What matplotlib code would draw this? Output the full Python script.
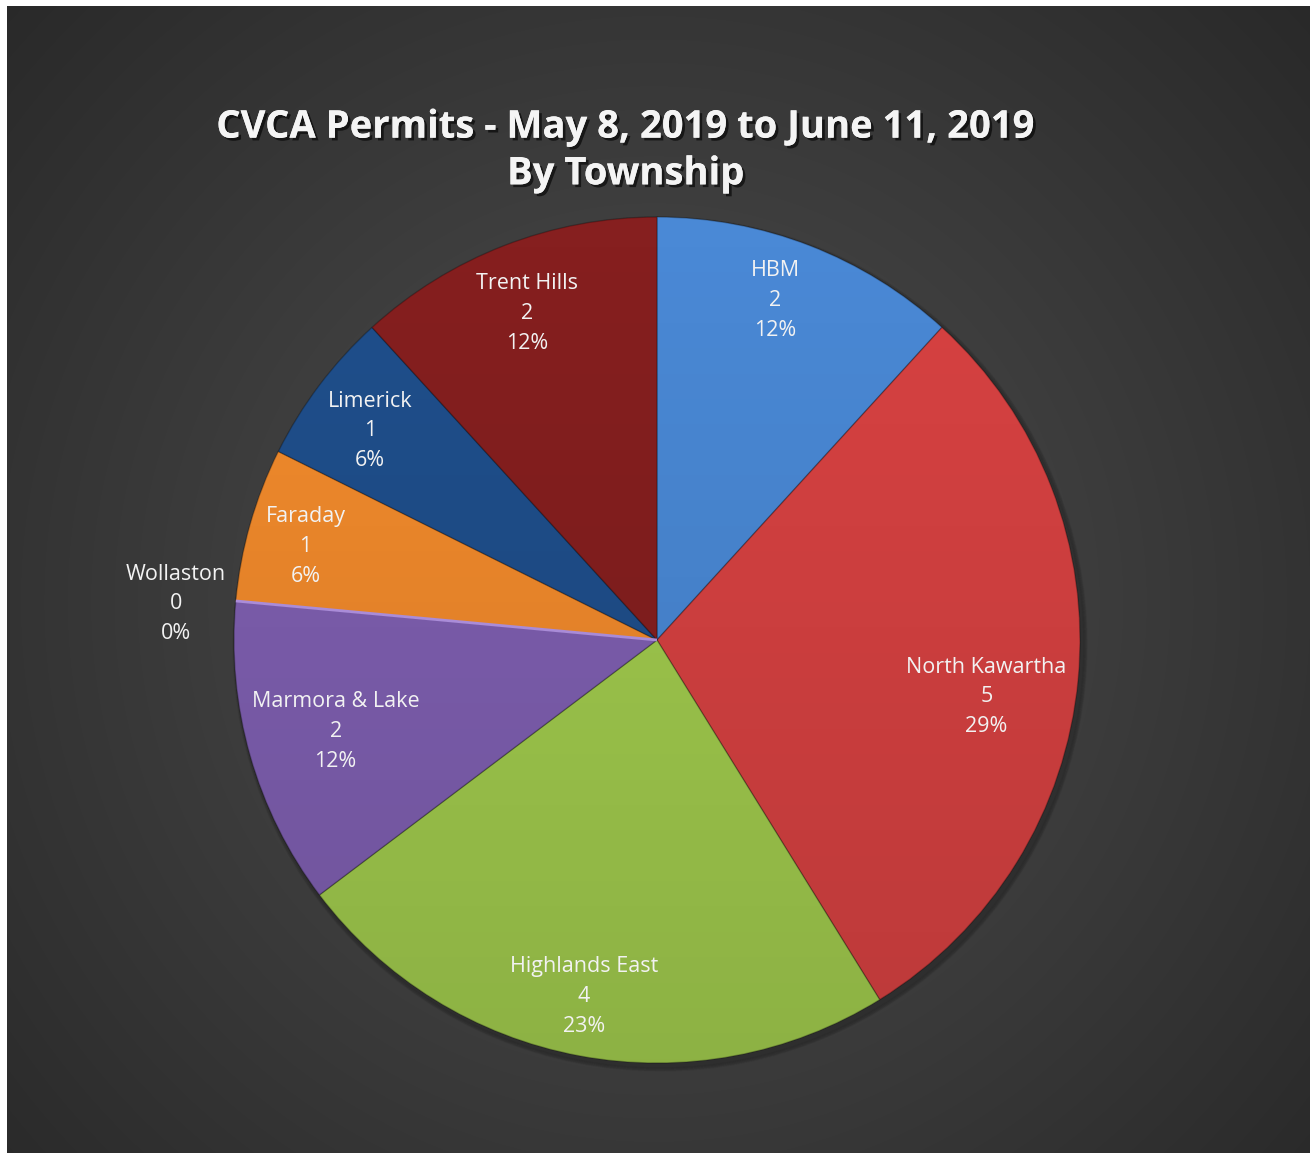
# CVCA permits pie chart, by township

import numpy as np
import matplotlib.pyplot as plt
import matplotlib.patheffects as pe

townships = ['HBM', 'North Kawartha', 'Highlands East', 'Marmora & Lake',
             'Wollaston', 'Faraday', 'Limerick', 'Trent Hills']
permits = [2, 5, 4, 2, 0, 1, 1, 2]
pct_labels = [12, 29, 23, 12, 0, 6, 6, 12]   # as printed on the chart
colors = ['#4a89d6', '#d84242', '#a2cc4e', '#8060b2',
          '#b595e6', '#f38b2c', '#1f4f8c', '#861f1f']
label_dist = [0.85, 0.79, 0.86, 0.79, 1.14, 0.86, 0.84, 0.83]  # fraction of radius
label_shift = [2, -4.5, -1, 0, 1, 1, 1, 0.5]                    # degrees
title = 'CVCA Permits - May 8, 2019 to June 11, 2019\nBy Township'

W, H = 1310, 1153
fig = plt.figure(figsize=(W/100, H/100), dpi=100, facecolor='white')
ax = fig.add_axes([0, 0, 1, 1])

# dark radial gradient background (leaves a thin white strip top/left)
yy, xx = np.mgrid[0:H, 0:W]
d = np.sqrt((xx - 650)**2 + (yy - (H - 600))**2) / 900
d = np.clip(d, 0, 1)
g = 0.31 - 0.15*d
bg = np.dstack([g, g, g])
ax.imshow(bg, extent=[7, W, 0, H - 6], origin='lower', aspect='auto', zorder=0)

cx, cy, R = 657, H - 640, 423

# soft drop shadow
for k in range(4):
    ax.add_patch(plt.Circle((cx + 3, cy - 4), R + 4 - k, color='black',
                            alpha=0.05, zorder=1))

wedges, _ = ax.pie(permits, colors=colors, startangle=90, counterclock=False,
                   center=(cx, cy), radius=R, frame=True,
                   wedgeprops=dict(edgecolor='#00000040', linewidth=1.0))
for w in wedges:
    w.set_zorder(2)
# the empty Wollaston slice still shows as a thin line
wedges[4].set_edgecolor(colors[4])
wedges[4].set_linewidth(2)
wedges[4].set_zorder(3)

# vertical shading over the pie: lighter top, darker bottom
sh = np.linspace(0, 1, 200)[:, None] * np.ones((1, 10))
shade = np.zeros((200, 10, 4))
shade[..., 3] = 0.13 * sh
im = ax.imshow(shade, extent=[cx - R, cx + R, cy - R, cy + R], origin='upper',
               aspect='auto', zorder=4)
im.set_clip_path(plt.Circle((cx, cy), R, transform=ax.transData))

ax.set_xlim(0, W)
ax.set_ylim(0, H)
ax.set_aspect('equal')
ax.axis('off')

for w, name, n, pct, dist, sft in zip(wedges, townships, permits, pct_labels,
                                      label_dist, label_shift):
    ang = np.deg2rad((w.theta1 + w.theta2) / 2 + sft)
    x = cx + dist*R*np.cos(ang)
    y = cy + dist*R*np.sin(ang)
    ax.text(x, y, f'{name}\n{n}\n{pct}%', ha='center', va='center',
            fontsize=15.5, color='#f2f2f2', family=['Open Sans', 'DejaVu Sans'],
            linespacing=1.55, zorder=5)

ax.text(626, H - 151, title, ha='center', va='center', fontsize=27.5,
        fontweight='bold', color='#f4f4f4', family=['Open Sans', 'DejaVu Sans'],
        linespacing=1.3, zorder=5,
        path_effects=[pe.withSimplePatchShadow(offset=(2, -2), shadow_rgbFace='black', alpha=0.6),
                      pe.Normal()])

fig.savefig('out.png', dpi=100, facecolor='white')
